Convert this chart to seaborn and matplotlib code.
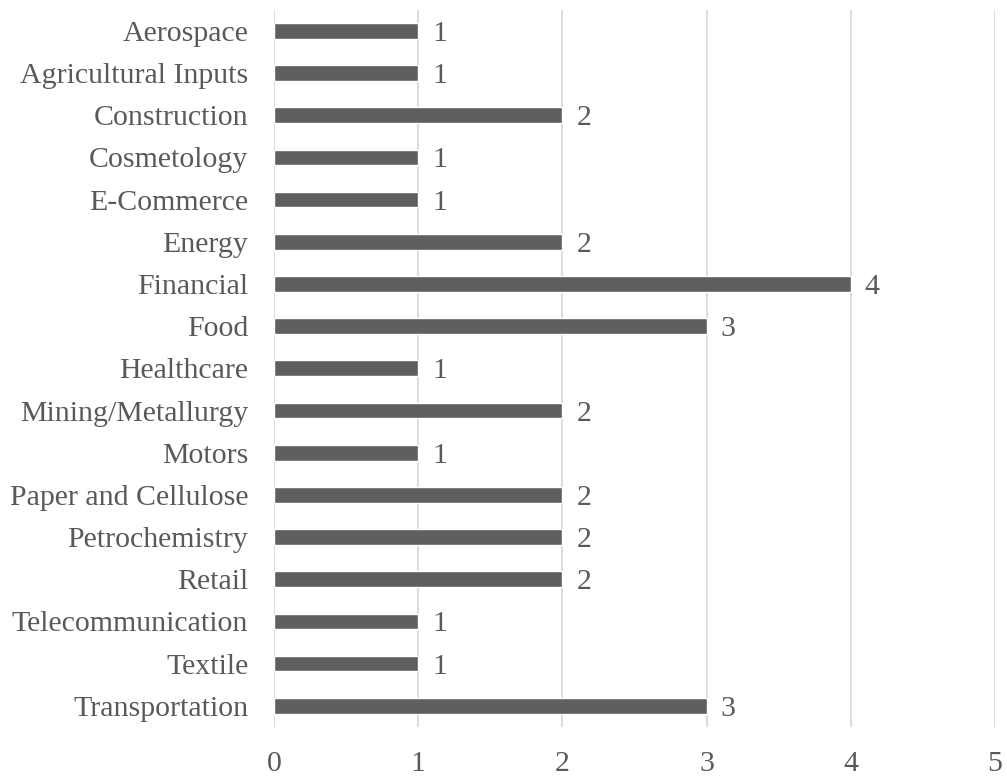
import matplotlib
matplotlib.use("Agg")
import matplotlib.pyplot as plt
import seaborn as sns
import pandas as pd

categories = ["Aerospace", "Agricultural Inputs", "Construction", "Cosmetology",
              "E-Commerce", "Energy", "Financial", "Food", "Healthcare",
              "Mining/Metallurgy", "Motors", "Paper and Cellulose",
              "Petrochemistry", "Retail", "Telecommunication", "Textile",
              "Transportation"]
counts = [1, 1, 2, 1, 1, 2, 4, 3, 1, 2, 1, 2, 2, 2, 1, 1, 3]
x_ticks = [0, 1, 2, 3, 4, 5]

df = pd.DataFrame({"category": categories, "count": counts})

sns.set_theme(style="white")
plt.rcParams['font.family'] = ['Liberation Serif', 'DejaVu Serif']

fig = plt.figure(figsize=(10.07, 7.78), dpi=100)
ax = fig.add_axes([0.272, 0.0656, 0.716, 0.922])

sns.barplot(data=df, x="count", y="category", orient="h", color="#5f5f5f",
            width=0.37, saturation=1, ax=ax, zorder=3)

ax.set_xlim(0, 5)
ax.set_ylim(len(categories) - 0.5, -0.5)
ax.set_xticks(x_ticks)
ax.set_xticklabels([str(t) for t in x_ticks])
ax.grid(axis="x", color="#d9d9d9", linewidth=1.3, zorder=0)
ax.grid(axis="y", visible=False)
for s in ax.spines.values():
    s.set_visible(False)
ax.set_xlabel("")
ax.set_ylabel("")
ax.tick_params(axis="both", length=0, labelsize=21.5, colors="#595959")
ax.tick_params(axis="x", pad=17)
ax.tick_params(axis="y", pad=18.5)
for lbl in ax.get_xticklabels() + ax.get_yticklabels():
    lbl.set_color("#595959")

for i, v in enumerate(counts):
    ax.annotate(str(v), xy=(v, i), xytext=(14, 0), textcoords="offset pixels",
                va="center_baseline", ha="left", fontsize=21.5, color="#595959")

fig.savefig("out.png", dpi=100)
